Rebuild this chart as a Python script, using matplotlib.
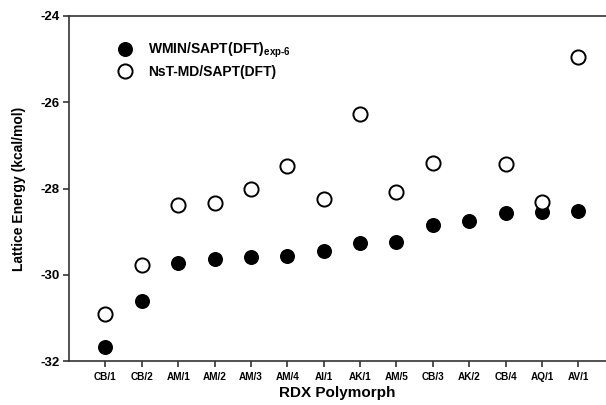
import matplotlib
matplotlib.use('Agg')
import matplotlib.pyplot as plt

# RDX polymorph lattice energies (kcal/mol)
polymorphs = ['CB/1', 'CB/2', 'AM/1', 'AM/2', 'AM/3', 'AM/4', 'AI/1',
              'AK/1', 'AM/5', 'CB/3', 'AK/2', 'CB/4', 'AQ/1', 'AV/1']
wmin_energy = [-31.67, -30.62, -29.73, -29.63, -29.59, -29.56, -29.44,
               -29.27, -29.23, -28.84, -28.75, -28.56, -28.54, -28.52]
# AK/2 has no NsT-MD value
md_energy = [-30.90, -29.77, -28.38, -28.34, -28.01, -27.47, -28.24,
             -26.27, -28.09, -27.41, None, -27.43, -28.32, -24.94]
y_ticks = [-32, -30, -28, -26, -24]

plt.rcParams['font.family'] = 'Liberation Sans'
plt.rcParams['font.weight'] = 'bold'
plt.rcParams['mathtext.fontset'] = 'custom'
plt.rcParams['mathtext.rm'] = 'Liberation Sans:bold'
plt.rcParams['mathtext.bf'] = 'Liberation Sans:bold'

fig = plt.figure(figsize=(6.06, 4.05), dpi=100)
ax = fig.add_axes([69 / 606, 44 / 405, 537 / 606, 345 / 405])

x = list(range(1, len(polymorphs) + 1))
md_x = [xi for xi, v in zip(x, md_energy) if v is not None]
md_y = [v for v in md_energy if v is not None]

ax.plot(x, wmin_energy, 'o', color='black', ms=10.8, mec='black', mew=0,
        label=r'WMIN/SAPT(DFT)$_{\mathrm{exp\text{-}6}}$', zorder=3)
ax.plot(md_x, md_y, 'o', mfc='white', mec='black', ms=10.2, mew=1.4,
        label='NsT-MD/SAPT(DFT)', zorder=4)

ax.set_xlim(0, 14.76)
ax.set_ylim(-32, -24)
ax.set_xticks(x)
ax.set_xticklabels(polymorphs, fontsize=7.2, fontweight='bold')
ax.set_yticks(y_ticks)
ax.set_yticklabels([str(t) for t in y_ticks], fontsize=9.5, fontweight='bold')

for side in ['left', 'top', 'bottom', 'right']:
    ax.spines[side].set_linewidth(1.2)
    ax.spines[side].set_color('#333333')
ax.spines['right'].set_visible(False)
ax.tick_params(axis='both', direction='out', length=4, width=1.2, color='#333333')
ax.tick_params(axis='x', pad=4)
ax.tick_params(axis='y', pad=3)

ax.set_xlabel('RDX Polymorph', fontsize=11, fontweight='bold', labelpad=3)
ax.set_ylabel('Lattice Energy (kcal/mol)', fontsize=10, fontweight='bold', labelpad=10)

ax.legend(loc='upper left', bbox_to_anchor=(0.074, 0.945), frameon=False,
          fontsize=10, handletextpad=0.8, labelspacing=0.35, handlelength=1.6,
          borderaxespad=0)

plt.savefig('out.png', dpi=100)
plt.close()
